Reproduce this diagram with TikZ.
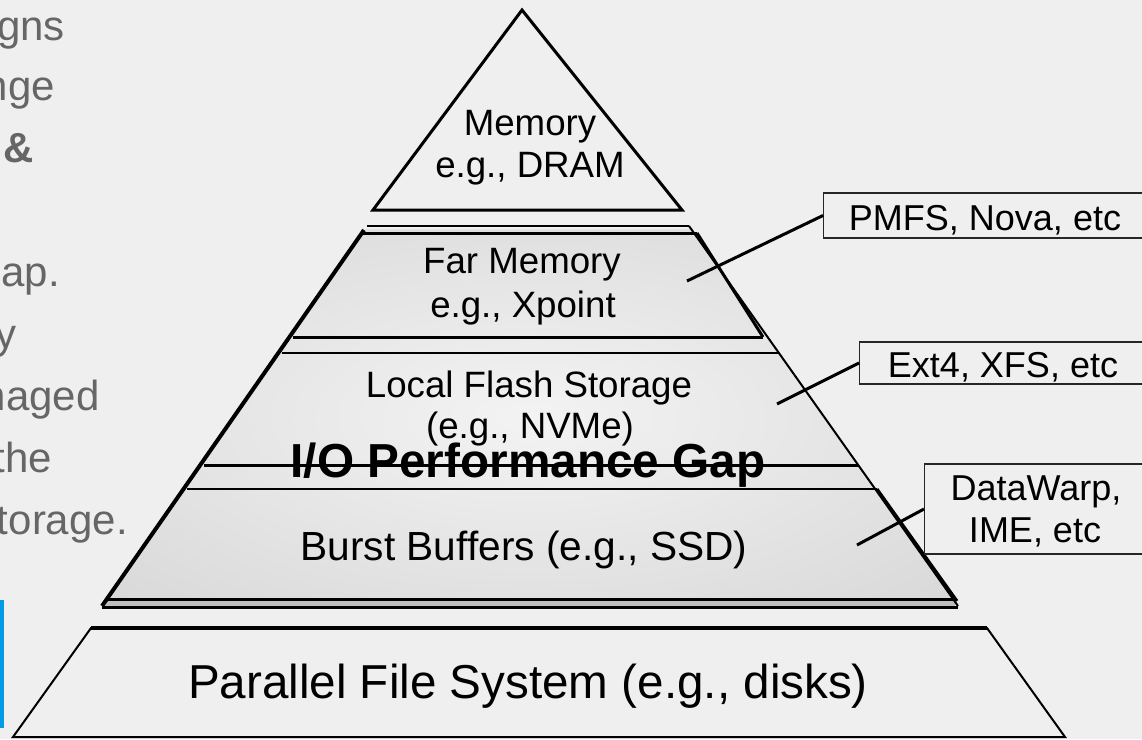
\documentclass[tikz,border=0pt]{standalone}
\usepackage{fontspec}
\setmainfont{Liberation Sans}
\definecolor{bg}{RGB}{239,239,239}
\definecolor{leftgray}{RGB}{102,102,102}
\definecolor{barblue}{RGB}{3,155,229}
\definecolor{pyrA}{RGB}{243,243,243}
\definecolor{pyrB}{RGB}{205,205,205}
\definecolor{pyrC}{RGB}{172,172,172}
\definecolor{bandgray}{RGB}{190,190,190}
\pgfdeclareradialshading{pyrshade}{\pgfpoint{0bp}{0bp}}{color(0bp)=(pyrA); color(50bp)=(pyrB); color(71bp)=(pyrC)}
\begin{document}
\begin{tikzpicture}[x=0.75pt,y=-0.75pt,
  lefttxt/.style={inner sep=0pt, anchor=base east, text=leftgray, font=\fontsize{31.5}{38}\selectfont},
  lbl/.style={inner sep=0pt, anchor=base, font=\fontsize{27.5}{32}\selectfont},
  gaplbl/.style={inner sep=0pt, anchor=base, font=\fontsize{35.8}{40}\selectfont\bfseries},
  burstlbl/.style={inner sep=0pt, anchor=base, font=\fontsize{30.5}{34}\selectfont},
  pfslbl/.style={inner sep=0pt, anchor=base, font=\fontsize{35.7}{40}\selectfont},
  boxlbl/.style={inner sep=0pt, anchor=base, font=\fontsize{27}{30}\selectfont},
  fsbox/.style={draw=black!85, line width=1.1pt, inner sep=0pt, anchor=west},
  thick3/.style={line width=2.25pt},
  thin2/.style={line width=1.5pt},
  lead/.style={line width=2.25pt}]
\useasboundingbox (0,0) rectangle (1142,739);
\fill[bg] (0,0) rectangle (1142,739);

\begin{scope}
\clip (0,0) rectangle (1142,739);
% blue bar
\fill[barblue] (0,600) rectangle (4,728);
% cut-off slide text on the left
\node[lefttxt] (t1) at (65,40) {gns};
\node[lefttxt] (t2) at (55,100) {nge};
\node[lefttxt, font=\fontsize{31.5}{38}\selectfont\bfseries] (t3) at (34,162) {\&};
\node[lefttxt] (t4) at (60,286) {ap.};
\node[lefttxt] (t5) at (17,348) {y};
\node[lefttxt] (t6) at (100,410) {naged};
\node[lefttxt] (t7) at (52,472) {the};
\node[lefttxt] (t8) at (128,534) {torage.};

% top triangle
\draw[thick3, line join=miter, fill=bg] (522,10) -- (682,210) -- (373,210) -- cycle;

% pyramid body
\shade[shading=pyrshade] (366,229) -- (692,229) -- (957,605) -- (102,605) -- cycle;
\fill[bandgray] (105,599) rectangle (955,607);
\draw[thin2] (367,226) -- (689,226);
\draw[thick3] (362,233) -- (697,233);
\draw[line width=3pt] (364,230) -- (102,606);
\draw[thin2] (689,226) -- (958,606);
\draw[thick3] (697,233) -- (763,337);
\draw[thick3] (877,489) -- (957,601);
\draw[thick3] (293,337) -- (763,337);
\draw[line width=1.9pt] (282,353) -- (779,353);
\draw[thick3] (204,465) -- (858,465);
\draw[line width=1.9pt] (187,489) -- (877,489);
\draw[thick3] (107,599) -- (954,599);
\draw[thick3] (102,607) -- (958,607);

% parallel file system
\draw[thin2, fill=bg] (91,628) -- (987,628) -- (1065,737) -- (13,737) -- cycle;
\draw[line width=3pt] (91,628) -- (987,628);

% layer labels
\node[lbl] (mem1) at (530,135) {Memory};
\node[lbl] (mem2) at (530,177) {e.g., DRAM};
\node[lbl] (far1) at (522,273) {Far Memory};
\node[lbl] (far2) at (523,317) {e.g., Xpoint};
\node[lbl] (loc1) at (529,397) {Local Flash Storage};
\node[lbl] (loc2) at (530,438) {(e.g., NVMe)};
\node[gaplbl] (gap) at (528,477) {I/O Performance Gap};
\node[burstlbl] (bb) at (524,560) {Burst Buffers (e.g., SSD)};
\node[pfslbl] (pfs) at (528,698) {Parallel File System (e.g., disks)};

% file system boxes
\node[fsbox, minimum width=243.75pt, minimum height=33.75pt] (pmfsbox) at (823,215.5) {};
\node[boxlbl] (pmfs) at (985,230) {PMFS, Nova, etc};
\node[fsbox, minimum width=216.75pt, minimum height=31.5pt] (extbox) at (859,363) {};
\node[boxlbl] (ext) at (1003,377) {Ext4, XFS, etc};
\node[fsbox, minimum width=168.75pt, minimum height=67.5pt] (dwbox) at (924,509) {};
\node[boxlbl] (dw1) at (1036,500) {DataWarp,};
\node[boxlbl] (dw2) at (1035,542) {IME, etc};

% leader lines
\coordinate (pfar) at (687,281);
\coordinate (ploc) at (777,404);
\coordinate (pbb) at (857,545);
\draw[lead] (pfar) -- (pmfsbox.west);
\draw[lead] (ploc) -- (extbox.west);
\draw[lead] (pbb) -- (dwbox.west);
\end{scope}
\end{tikzpicture}
\end{document}
